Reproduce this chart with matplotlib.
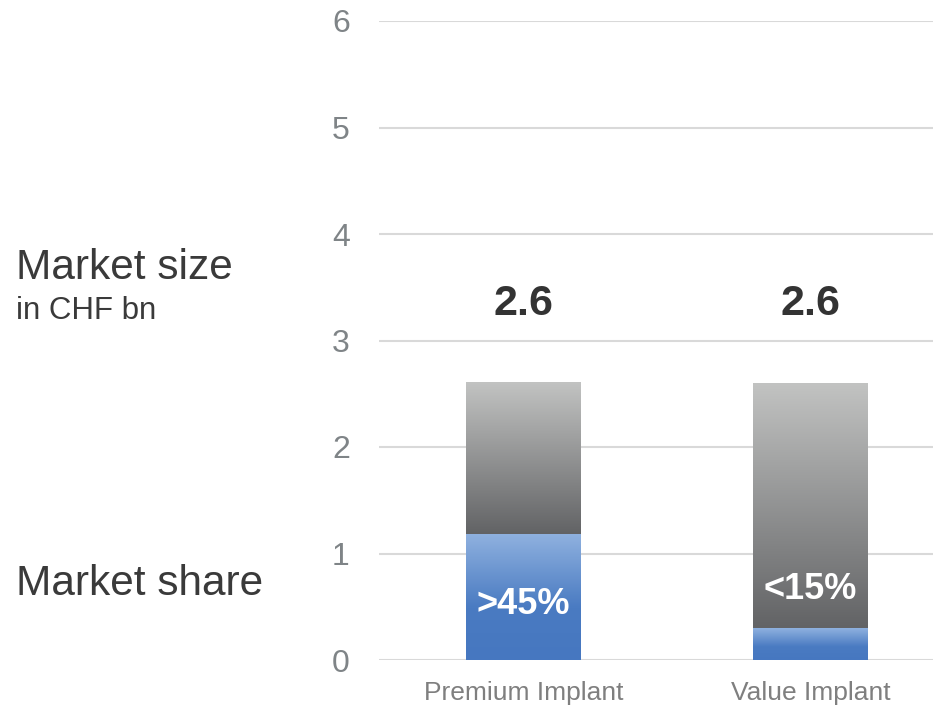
import numpy as np
import matplotlib.pyplot as plt
from matplotlib.colors import LinearSegmentedColormap

plt.rcParams['font.family'] = ['Liberation Sans', 'DejaVu Sans']

# data
categories = ["Premium Implant", "Value Implant"]
market_size = [2.6, 2.6]
share_height = [1.18, 0.30]
total_labels = ["2.6", "2.6"]
share_labels = [">45%", "<15%"]
share_label_y = [0.52, 0.66]
yticks = [0, 1, 2, 3, 4, 5, 6]

gray_cmap = LinearSegmentedColormap.from_list('g', ['#626365', '#c2c3c2'])
blue_cmap = LinearSegmentedColormap.from_list(
    'b', [(0.0, '#4677c0'), (0.42, '#4a7bc2'), (1.0, '#8fb1df')])

fig = plt.figure(figsize=(9.33, 7.08), dpi=100)
ax = fig.add_axes([379 / 933, 48 / 708, 554 / 933, 639 / 708])

x = np.arange(len(categories))
rest = [t - s for t, s in zip(market_size, share_height)]
blue_bars = ax.bar(x, share_height, width=0.40, color='none', zorder=3)
gray_bars = ax.bar(x, rest, width=0.40, bottom=share_height, color='none', zorder=3)

# fill each bar segment with a vertical gradient
grad = np.linspace(0, 1, 256).reshape(-1, 1)
for bars, cmap in ((blue_bars, blue_cmap), (gray_bars, gray_cmap)):
    for p in bars:
        x0, y0 = p.get_x(), p.get_y()
        w, h = p.get_width(), p.get_height()
        ax.imshow(grad, cmap=cmap, origin='lower', aspect='auto',
                  extent=[x0, x0 + w, y0, y0 + h], zorder=3,
                  interpolation='bicubic')

for i in x:
    ax.text(i, market_size[i] + 0.74, total_labels[i], ha='center', va='center',
            fontsize=31, fontweight='bold', color='#333333', zorder=5)
    ax.text(i, share_label_y[i], share_labels[i], ha='center', va='center',
            fontsize=26, fontweight='bold', color='white', zorder=5)

ax.set_xlim(-0.503, 1.427)
ax.set_ylim(0, 6)
ax.set_yticks(yticks)
ax.set_xticks(x)
ax.set_xticklabels(categories)
ax.tick_params(axis='y', length=0, pad=21, labelsize=23, labelcolor='#7f8487')
ax.tick_params(axis='x', length=0, pad=15, labelsize=19, labelcolor='#7f7f7f')
ax.grid(axis='y', color='#d9d9d9', linewidth=1.5, zorder=0)
ax.set_axisbelow(True)
for s in ax.spines.values():
    s.set_visible(False)

fig.text(16 / 933, 1 - 268 / 708, "Market size", fontsize=30.5, color='#3a3a3a',
         ha='left', va='center')
fig.text(16 / 933, 1 - 311 / 708, "in CHF bn", fontsize=22.5, color='#3a3a3a',
         ha='left', va='center')
fig.text(16 / 933, 1 - 584 / 708, "Market share", fontsize=30.5, color='#3a3a3a',
         ha='left', va='center')

fig.savefig('out.png', dpi=100)
